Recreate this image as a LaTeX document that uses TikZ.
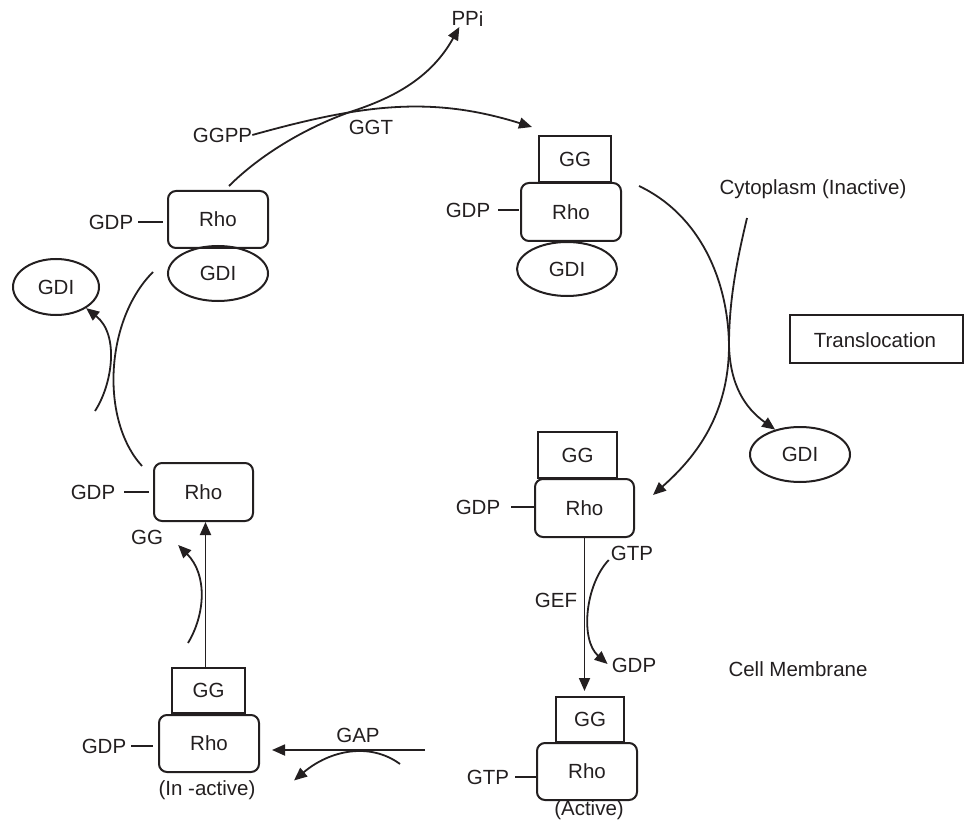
\documentclass[tikz,border=0pt]{standalone}
\usepackage{fontspec}
\setmainfont{Liberation Sans}
\usetikzlibrary{arrows.meta,shapes.geometric}
\definecolor{ink}{RGB}{35,31,32}
\begin{document}
\begin{tikzpicture}[x=1pt,y=-1pt,
  every node/.style={inner sep=0pt, text=ink, font=\fontsize{20.5}{24}\selectfont},
  rhobox/.style={draw=ink, line width=2pt, rounded corners=8pt, minimum width=100pt, minimum height=57pt},
  ggbox/.style={draw=ink, line width=2pt, minimum width=72pt, minimum height=46pt},
  gdiell/.style={draw=ink, line width=2pt, ellipse, minimum width=100pt, minimum height=55pt},
  conn/.style={draw=ink, line width=1.8pt},
  arr/.style={conn, -{Triangle[length=13pt,width=11pt]}},
]
\useasboundingbox (0,0) rectangle (964,821);

% top-left complex
\node[rhobox] (rho1) at (218,219.5) {Rho};
\node[gdiell] (gdi1) at (218,273.5) {GDI};
\node (gdp1) at (111,222) {GDP};
\node[gdiell, minimum width=86pt, minimum height=56pt] (gdi0) at (56,287) {GDI};

% top-right complex
\node[ggbox] (gg2) at (575,159) {GG};
\node[rhobox, minimum height=58pt] (rho2) at (571,212) {Rho};
\node[gdiell, minimum height=54pt] (gdi2) at (567,269) {GDI};
\node (gdp2) at (468,210) {GDP};

% middle-left
\node[rhobox, minimum width=99pt, minimum height=58pt] (rho3) at (203.5,492) {Rho};
\node (gdp3) at (93,492) {GDP};
\node (gg3) at (147,537) {GG};

% bottom-left
\node[ggbox, minimum width=73pt, minimum height=45pt] (gg4) at (208.5,690.5) {GG};
\node[rhobox] (rho4) at (209,743.5) {Rho};
\node (gdp4) at (104,746) {GDP};
\node (inactive) at (207,790) {(In -active)};

% middle-right
\node[ggbox, minimum width=79pt] (gg5) at (577.5,455) {GG};
\node[rhobox, minimum width=99pt, minimum height=58pt] (rho5) at (584.5,508) {Rho};
\node (gdp5) at (478,507) {GDP};

% bottom-right
\node[ggbox, minimum width=68pt, minimum height=45pt] (gg6) at (590,719.5) {GG};
\node[rhobox] (rho6) at (587,771.5) {Rho};
\node (gtp6) at (488,777) {GTP};
\node (active) at (589,810) {(Active)};

% right side
\node (cyto) at (813,189) {Cytoplasm (Inactive)};
\node[draw=ink, line width=1.8pt, minimum width=173pt, minimum height=48pt] (transl) at (876.5,339) {};
\node at (875,340) {Translocation};
\node[gdiell] (gdi6) at (800,454.5) {GDI};
\node (cellm) at (798,669) {Cell Membrane};

% labels
\node (ppi) at (467.5,19) {PP\raisebox{-1.5pt}{i}};
\node (ggpp) at (222.5,135) {GGPP};
\node (ggt) at (371,127) {GGT};
\node (gtp5) at (632,553) {GTP};
\node (gdp5b) at (634,665) {GDP};
\node (gef) at (556,600) {GEF};
\node (gap) at (358,735) {GAP};

% free ends
\coordinate (tstart) at (747,218);
\coordinate (cstart) at (153,272);
\coordinate (dstart) at (95,411);
\coordinate (sstart) at (188,643);
\coordinate (gapstart) at (425,750);
\coordinate (gcstart) at (400,764);

% dashes
\draw[conn, shorten <=5pt, shorten >=4pt] (gdp1.east) -- (rho1.west |- gdp1.east);
\draw[conn, shorten <=8pt, shorten >=1pt] (gdp2.east) -- (rho2.west |- gdp2.east);
\draw[conn, shorten <=9pt, shorten >=4pt] (gdp3.east) -- (rho3.west |- gdp3.east);
\draw[conn, shorten <=5pt, shorten >=5pt] (gdp4.east) -- (rho4.west |- gdp4.east);
\draw[conn, shorten <=11pt] (gdp5.east) -- (rho5.west |- gdp5.east);
\draw[conn, shorten <=6pt] (gtp6.east) -- (rho6.west |- gtp6.east);

% GGT reaction
\draw[arr] (ggpp.east) .. controls (360,105) and (430,95) .. ([shift={(-6,-8)}]gg2.north west);
\draw[arr] ([shift={(11,-4)}]rho1.north) .. controls (260,155) and (305,128) .. (350,112)
  .. controls (390,99) and (430,80) .. ([shift={(8,0)}]ppi.south west);

% translocation crossing
\draw[arr] ([shift={(17,4)}]rho2.north east) .. controls (700,215) and (728,280) .. (729,345)
  .. controls (730,385) and (745,408) .. (gdi6.135);
\draw[arr] (tstart) .. controls (737,260) and (729,300) .. (729,345)
  .. controls (729,420) and (690,462) .. ([shift={(18,-13)}]rho5.east);

% left crossing
\draw[conn] (cstart) .. controls (105,320) and (100,420) .. ([shift={(-11,4)}]rho3.north west);
\draw[arr] (dstart) .. controls (112,385) and (120,335) .. (gdi0.-35);

% left vertical
\draw[arr] ([xshift=-3pt]gg4.north) -- ([xshift=-3pt]gg4.north |- rho3.south);
\draw[arr] (sstart) .. controls (205,615) and (208,575) .. ([shift={(15,8)}]gg3.east);

% GEF
\draw[arr, shorten >=5pt] (rho5.south) -- (rho5.south |- gg6.north);
\draw[arr] ([shift={(-2,7)}]gtp5.west) .. controls (585,585) and (580,640) .. ([shift={(-4,-1)}]gdp5b.west);

% GAP
\draw[arr, shorten >=12pt] (gapstart) -- (rho4.east |- gapstart);
\draw[arr] (gcstart) .. controls (370,742) and (330,750) .. ([shift={(34,37)}]rho4.east);
\end{tikzpicture}
\end{document}
